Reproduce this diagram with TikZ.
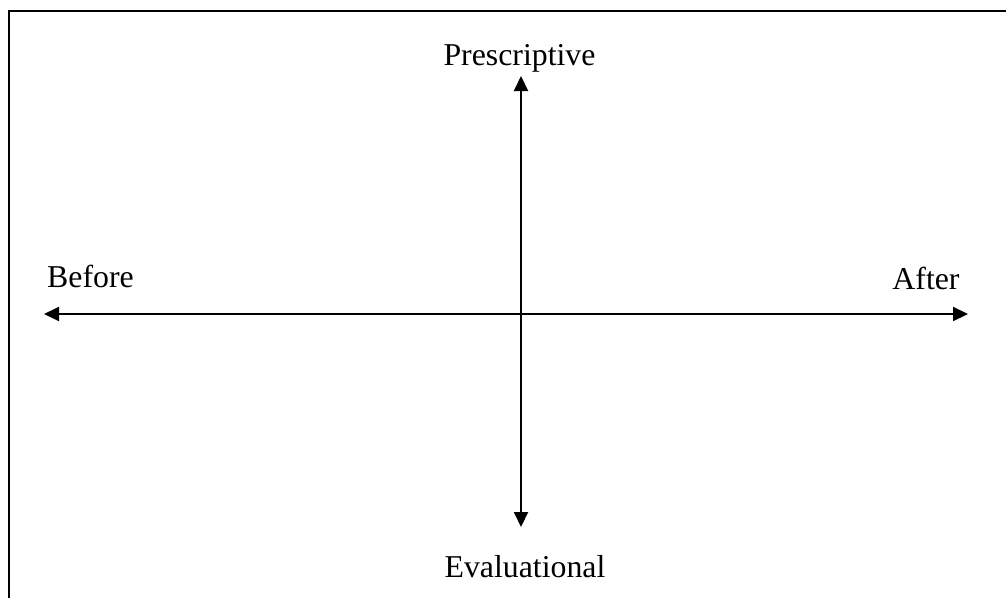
\documentclass[tikz,border=0pt]{standalone}
\usepackage{fontspec}
\setmainfont{Liberation Serif}
\usetikzlibrary{arrows.meta}
\begin{document}
\begin{tikzpicture}[x=1pt,y=-1pt,
  axis/.style={line width=2pt,{Triangle[length=15pt,width=14pt]}-{Triangle[length=15pt,width=14pt]}},
  frameline/.style={line width=2pt},
  lbl/.style={anchor=base,inner sep=0pt,font=\fontsize{31.8}{38}\selectfont}]
\useasboundingbox (0,0) rectangle (1006,598);
% frame (only left and top edges visible)
\coordinate (fb) at (8.5,598);
\coordinate (fc) at (8.5,11);
\coordinate (fr) at (1006,11);
\draw[frameline] (fb) -- (fc) -- (fr);
% axes
\coordinate (L) at (44,314);
\coordinate (R) at (968,314);
\coordinate (T) at (521,76);
\coordinate (B) at (521,527);
\draw[axis] (L) -- (R);
\draw[axis] (T) -- (B);
% labels
\node[lbl] (pre) at (519.5,65) {Prescriptive};
\node[lbl] (eva) at (525,577) {Evaluational};
\node[lbl] (bef) at (90.5,287) {Before};
\node[lbl] (aft) at (926,289) {After};
\end{tikzpicture}
\end{document}
